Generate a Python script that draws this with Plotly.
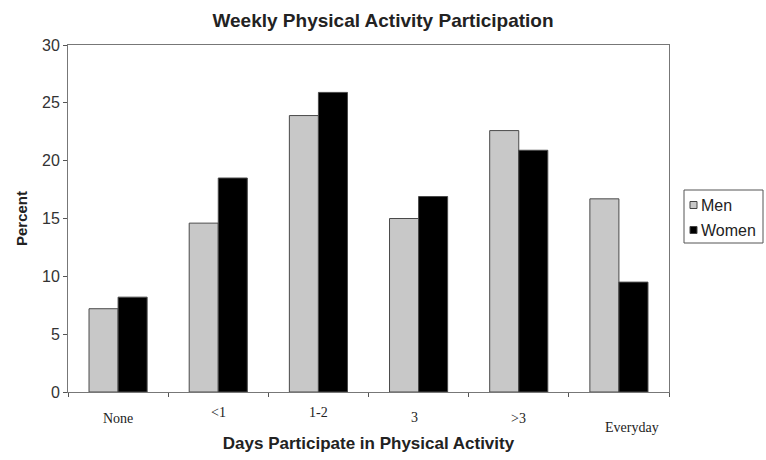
import plotly.graph_objects as go

categories = ["None", "<1", "1-2", "3", ">3", "Everyday"]
men = [7.2, 14.6, 23.9, 15.0, 22.6, 16.7]
women = [8.2, 18.5, 25.9, 16.9, 20.9, 9.5]
y_ticks = [0, 5, 10, 15, 20, 25, 30]

series = [("Men", men, "#c8c8c8"), ("Women", women, "#000000")]

# per-category label offsets (px) below the axis: (x shift, y shift)
label_shift = [(0, -26), (0, -20), (0, -20), (-4, -25), (0, -26), (13, -35)]

L, R, T, B, W, H = 68, 97, 45, 68, 766, 460
pw, ph = W - L - R, H - T - B


def px(x):
    return (x - L) / pw


def py(y):
    return (H - B - y) / ph


fig = go.Figure()
for name, vals, color in series:
    fig.add_trace(go.Bar(x=categories, y=vals, name=name, showlegend=False,
                         marker=dict(color=color, line=dict(color="#4a4a4a", width=1))))

for cat, (dx, dy) in zip(categories, label_shift):
    fig.add_annotation(x=cat, y=0, xref="x", yref="y", text=cat, showarrow=False,
                       xshift=dx, yshift=dy,
                       font=dict(family="Liberation Serif", size=14, color="#222222"))

# boxed legend on the right
fig.add_shape(type="rect", xref="paper", yref="paper",
              x0=px(684), x1=px(763), y0=py(243), y1=py(190),
              line=dict(color="#555555", width=1), fillcolor="white")
for i, (name, _, color) in enumerate(series):
    cy = 205 + 25 * i
    fig.add_shape(type="rect", xref="paper", yref="paper",
                  x0=px(690), x1=px(697), y0=py(cy + 3.5), y1=py(cy - 3.5),
                  line=dict(color="#444444", width=1), fillcolor=color)
    fig.add_annotation(x=px(699), y=py(cy), xref="paper", yref="paper", text=name,
                       showarrow=False, xanchor="left", yanchor="middle",
                       font=dict(family="Arial", size=16, color="#222222"))

fig.update_layout(
    width=W, height=H,
    margin=dict(l=L, r=R, t=T, b=B, autoexpand=False),
    paper_bgcolor="white", plot_bgcolor="white",
    barmode="group", bargap=0.42, bargroupgap=0,
    showlegend=False,
    title=dict(text="<b>Weekly Physical Activity Participation</b>", x=0.5, xref="container",
               xanchor="center", y=1 - 20 / H, yref="container", yanchor="middle",
               font=dict(family="Arial", size=19, color="#222222")),
    font=dict(family="Arial", color="#333333"),
    xaxis=dict(showticklabels=False, tickson="boundaries", ticks="outside", ticklen=4,
               tickcolor="#555555", showline=True, linecolor="#777777", mirror=True,
               title=dict(text="<b>Days Participate in Physical Activity</b>", standoff=45,
                          font=dict(family="Arial", size=17, color="#222222"))),
    yaxis=dict(range=[0, 30], tickvals=y_ticks, ticks="outside", ticklen=4,
               tickcolor="#555555", showline=True, linecolor="#777777", mirror=True,
               showgrid=False, zeroline=False,
               tickfont=dict(family="Arial", size=16, color="#333333"),
               title=dict(text="<b>Percent</b>", standoff=10,
                          font=dict(family="Arial", size=15, color="#222222"))),
)

fig.write_html("out.html")
